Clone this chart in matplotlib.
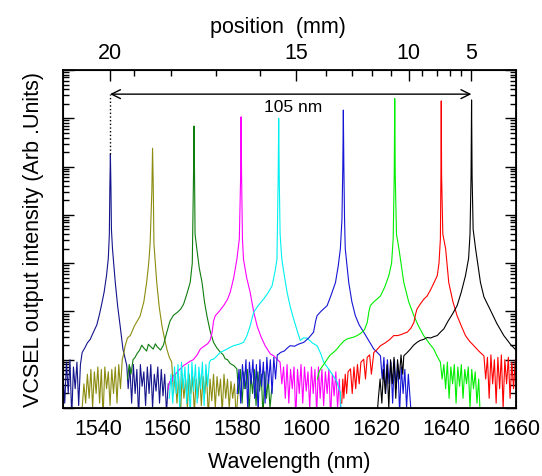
import numpy as np
import matplotlib
matplotlib.use("Agg")
import matplotlib.pyplot as plt
from matplotlib.ticker import LogLocator, NullFormatter

plt.rcParams['font.family'] = ['Liberation Sans', 'DejaVu Sans']

# ---------------- data (log10 of intensity, arb. units) ----------------
NOISE_STEP = 0.5  # nm sampling of the noise-floor segments

# 1) navy, 20 mm
navy_noise_a = (1530.0, [0.7, 0.1, 0.95, 0.3, 1.0, -0.2, 0.85, 0.4, 0.95, 0.05, 0.9, 1.15])
navy_wl = [1536.3, 1537.0, 1537.8, 1538.6, 1539.7, 1540.5, 1541.1, 1541.8, 1542.5, 1543.0,
           1543.3, 1543.45, 1543.6, 1543.75, 1543.9, 1544.2, 1545.0, 1545.7, 1546.4, 1547.2, 1548.3]
navy_lv = [1.25, 1.35, 1.42, 1.55, 1.72, 1.95, 2.15, 2.4, 2.75, 3.1,
           3.6, 4.6, 5.26, 4.6, 3.7, 3.3, 2.6, 2.1, 1.7, 1.22, 0.88]
navy_noise_b = (1548.7, [0.4, 0.85, 0.1, 0.9, 0.3, 0.8, -0.2, 0.9, 0.45, 0.75, 0.05, 0.85,
                         0.3, 0.9, 0.0, 0.7, 0.35, 0.85, 0.1, 0.8, 0.25, 0.7, -0.1, 0.5])

# 2) olive
olive_noise_a = (1535.5, [0.0, 0.5, 0.1, 0.7, 0.2, 0.8, 0.0, 0.75, 0.3, 0.85, 0.1, 0.8, -0.2,
                          0.85, 0.4, 0.75, 0.05, 0.8, 0.3, 0.85, 0.1, 0.9, 0.4, 1.0, 1.15])
olive_wl = [1547.8, 1548.5, 1549.3, 1550.5, 1552.1, 1553.2, 1554.0, 1554.6, 1555.0, 1555.5,
            1555.7, 1555.9, 1556.1, 1556.9, 1557.6, 1558.4, 1559.1, 1559.8, 1560.5, 1561.2]
olive_lv = [1.28, 1.45, 1.5, 1.7, 1.9, 2.2, 2.6, 3.0, 3.4, 4.5,
            5.38, 4.6, 3.4, 2.6, 2.1, 1.7, 1.45, 1.22, 1.05, 0.95]
olive_noise_b = (1561.7, [0.3, 0.7, 0.1, 0.65, -0.2, 0.7, 0.2, 0.6, 0.0, 0.7, 0.3, 0.65, -0.1,
                          0.6, 0.2, 0.7, 0.05, 0.65, 0.3, 0.7, -0.2, 0.6, 0.15, 0.7, 0.0, 0.65,
                          0.25, 0.6, -0.1, 0.7, 0.2, 0.6, 0.0, 0.55, 0.2, 0.5, -0.2, 0.3])

# 3) dark green
green_wl = [1548.5, 1549.0, 1549.5, 1550.1, 1550.7, 1551.2, 1552.0, 1552.6, 1553.1, 1554.0,
            1554.5, 1555.0, 1555.9, 1556.5, 1557.0, 1558.0, 1558.8, 1559.8, 1560.7, 1561.7,
            1562.8, 1563.8, 1564.6, 1565.5, 1566.5, 1567.1, 1567.45, 1567.6, 1567.75, 1567.9,
            1568.4, 1569.1, 1569.9, 1570.6, 1571.3, 1572.2, 1573.2, 1574.1, 1575.1, 1576.0,
            1576.5, 1577.2, 1578.0, 1579.0, 1579.9]
green_lv = [0.6, 0.9, 0.7, 1.0, 1.05, 1.12, 1.2, 1.3, 1.25, 1.18,
            1.32, 1.28, 1.22, 1.33, 1.27, 1.2, 1.3, 1.57, 1.8, 1.92,
            1.98, 2.05, 2.15, 2.35, 2.6, 3.0, 4.8, 5.84, 4.8, 3.6,
            3.3, 2.9, 2.6, 2.2, 1.91, 1.6, 1.36, 1.25, 1.16, 1.1,
            1.02, 1.0, 0.92, 0.88, 0.81]
green_noise = (1580.4, [0.3, 0.8, 0.1, 0.75, 0.4, 0.8, -0.1, 0.7, 0.3, 0.8, 0.05, 0.75,
                        0.35, 0.7, -0.2, 0.75, 0.2, 0.6, 0.0, 0.4])

# 4) magenta
magenta_wl = [1560.2, 1560.6, 1561.0, 1561.7, 1562.5, 1563.5, 1564.6, 1565.5, 1566.5, 1567.4,
              1568.5, 1569.4, 1570.5, 1571.5, 1572.2, 1572.8, 1573.2, 1573.7, 1574.8, 1576.1,
              1577.2, 1578.0, 1579.0, 1579.9, 1580.6, 1580.95, 1581.1, 1581.25, 1581.5, 1581.8,
              1582.7, 1583.7, 1584.7, 1585.7, 1586.8, 1588.0, 1589.5, 1590.5, 1591.4, 1592.3]
magenta_lv = [0.39, 0.55, 0.5, 0.67, 0.72, 0.8, 0.88, 0.92, 0.97, 1.0,
              1.1, 1.22, 1.28, 1.33, 1.4, 1.57, 1.8, 1.91, 2.0, 2.12,
              2.25, 2.4, 2.7, 3.08, 3.5, 4.7, 6.03, 4.8, 3.5, 3.08,
              2.7, 2.4, 2.0, 1.7, 1.48, 1.29, 1.12, 1.08, 1.01, 0.95]
magenta_noise = (1592.8, [0.5, 0.85, 0.2, 0.9, 0.1, 0.8, 0.4, 0.85, -0.2, 0.8, 0.3, 0.9, 0.1,
                          0.85, 0.35, 0.75, 0.0, 0.85, 0.3, 0.8, -0.1, 0.85, 0.2, 0.8, 0.05,
                          0.75, 0.3, 0.8, -0.2, 0.7, 0.25, 0.75, 0.0, 0.6, -0.3])

# 5) cyan
cyan_noise = (1560.5, [0.2, 0.7, 0.1, 0.85, 0.3, 0.9, 0.0, 0.95, 0.4, 0.85, 0.1, 0.9, -0.2,
                       0.95, 0.35, 0.9, 0.1, 0.85, 0.4, 0.95, 0.05, 0.9, 0.45, 0.95, 1.0])
cyan_wl = [1573.2, 1574.2, 1575.1, 1576.5, 1577.8, 1578.9, 1580.5, 1581.8, 1582.8, 1583.7,
           1584.7, 1585.8, 1586.7, 1587.6, 1588.8, 1590.0, 1590.9, 1591.4, 1591.75, 1591.9,
           1592.05, 1592.3, 1592.8, 1593.5, 1594.3, 1595.2, 1596.2, 1597.2, 1598.1, 1599.0,
           1600.0, 1601.5, 1602.9, 1604.0, 1604.8, 1605.8, 1606.8, 1607.7, 1608.6, 1609.2,
           1609.6, 1610.0]
cyan_lv = [1.01, 1.08, 1.15, 1.2, 1.25, 1.29, 1.32, 1.36, 1.5, 1.7,
           1.98, 2.1, 2.18, 2.26, 2.38, 2.53, 2.85, 3.08, 4.8, 6.0,
           4.8, 3.6, 3.08, 2.75, 2.4, 2.1, 1.84, 1.6, 1.4, 1.45,
           1.45, 1.35, 1.29, 1.12, 0.95, 0.85, 0.75, 0.65, 0.55, 0.4,
           0.33, -0.5]

# 6) blue
blue_noise_a = (1580.0, [0.3, 0.8, 0.1, 0.9, 0.4, 1.0, 0.0, 0.95, 0.5, 1.0, 0.2, 0.9, -0.1,
                         1.0, 0.45, 0.95, 0.1, 1.05, 0.5, 1.0, 0.3, 1.05, 0.6, 1.1, 1.12])
blue_wl = [1592.4, 1593.5, 1594.5, 1595.2, 1596.5, 1597.5, 1599.1, 1600.5, 1601.9, 1602.5,
           1602.9, 1604.0, 1605.8, 1607.0, 1608.2, 1609.0, 1609.6, 1610.05, 1610.3, 1610.45,
           1610.6, 1610.8, 1611.0, 1612.0, 1612.9, 1613.9, 1615.0, 1616.3, 1617.7, 1619.2,
           1620.2, 1621.1]
blue_lv = [1.15, 1.18, 1.25, 1.29, 1.28, 1.32, 1.36, 1.45, 1.57, 1.8,
           1.91, 2.0, 2.12, 2.35, 2.6, 2.95, 3.3, 3.9, 5.0, 6.17,
           5.0, 3.9, 3.3, 2.6, 2.2, 1.91, 1.72, 1.57, 1.4, 1.22,
           1.15, 1.08]
blue_noise_b = (1621.6, [0.6, 1.05, 0.3, 1.0, 0.5, 0.95, 0.1, 1.0, 0.4, 0.9, -0.1, 0.85,
                         0.3, 0.8, 0.0, 0.7, 0.2, -0.3])

# 7) lime green
lime_wl = [1603.0, 1603.5, 1603.9, 1604.8, 1605.8, 1606.7, 1607.6, 1608.6, 1609.5, 1610.5,
           1611.5, 1612.5, 1613.5, 1614.4, 1615.5, 1616.5, 1617.3, 1617.8, 1618.2, 1619.2,
           1620.2, 1621.1, 1622.3, 1623.5, 1624.3, 1624.75, 1625.05, 1625.2, 1625.35, 1625.7,
           1626.4, 1627.1, 1627.8, 1629.2, 1630.7, 1632.0, 1633.5, 1635.0, 1636.4, 1637.3,
           1638.3]
lime_lv = [0.6, 0.75, 0.81, 0.9, 1.01, 1.1, 1.15, 1.22, 1.3, 1.38,
           1.43, 1.45, 1.47, 1.5, 1.55, 1.62, 1.77, 2.0, 2.12, 2.2,
           2.26, 2.32, 2.5, 2.74, 3.0, 3.5, 4.8, 6.41, 4.8, 3.6,
           3.3, 2.95, 2.6, 2.2, 1.91, 1.7, 1.5, 1.35, 1.22, 1.08,
           0.95]
lime_noise = (1638.8, [0.6, 0.9, 0.4, 0.95, 0.2, 0.85, 0.5, 0.9, 0.1, 0.85, 0.45, 0.9, 0.2,
                       0.8, 0.5, 0.85, 0.0, 0.8, 0.4, 0.75, 0.1, 0.6, -0.3])

# 8) red
red_wl = [1610.0, 1610.3, 1610.6, 1611.0, 1611.4, 1611.8, 1612.5, 1613.0, 1613.5, 1614.0,
          1614.5, 1615.0, 1615.5, 1616.3, 1616.8, 1617.3, 1618.0, 1618.5, 1619.2, 1620.0,
          1621.1, 1622.5, 1623.8, 1624.9, 1626.0, 1627.0, 1628.0, 1628.8, 1629.8, 1630.7,
          1631.2, 1631.6, 1632.5, 1633.5, 1634.5, 1635.5, 1636.5, 1637.4, 1637.9, 1638.3,
          1638.45, 1638.55, 1638.65, 1639.0, 1639.8, 1640.7, 1641.9, 1643.1, 1644.3, 1645.5,
          1646.7, 1647.9, 1649.3, 1650.8]
red_lv = [0.1, 0.6, 0.2, 0.7, 0.3, 0.75, 0.81, 0.3, 0.85, 0.4,
          0.9, 0.5, 0.95, 1.01, 0.6, 1.05, 1.1, 0.7, 1.15, 1.2,
          1.29, 1.35, 1.42, 1.5, 1.5, 1.52, 1.55, 1.57, 1.65, 1.77,
          1.95, 2.05, 2.15, 2.25, 2.32, 2.45, 2.6, 2.74, 3.0, 3.5,
          4.8, 6.36, 4.8, 3.6, 3.3, 2.6, 2.2, 1.91, 1.7, 1.5,
          1.38, 1.29, 1.18, 1.08]
red_noise = (1651.3, [0.6, 1.05, 0.2, 1.1, 0.5, 1.0, 0.1, 1.05, 0.4, 1.1, 0.0, 1.0, 0.5,
                      1.05, 0.2, 0.95, 0.4, 1.0])

# 9) black, 5 mm
black_noise = (1620.0, [-0.3, 0.2, 0.6, 0.1, 0.8, 0.3, 0.9, 0.0, 1.0, 0.5, 1.05, 0.2, 1.0,
                        0.6, 1.1, 0.7])
black_wl = [1627.8, 1628.8, 1629.7, 1630.6, 1631.6, 1632.5, 1633.5, 1634.5, 1635.5, 1636.5,
            1637.4, 1638.3, 1639.3, 1640.5, 1641.8, 1643.1, 1644.3, 1645.5, 1646.4, 1646.8,
            1647.1, 1647.25, 1647.4, 1647.7, 1648.4, 1649.1, 1649.8, 1650.8, 1652.5, 1654.5,
            1656.5, 1658.4, 1660.0]
black_lv = [1.08, 1.15, 1.22, 1.3, 1.36, 1.4, 1.42, 1.46, 1.45, 1.48,
            1.5, 1.57, 1.64, 1.8, 1.95, 2.12, 2.4, 2.74, 3.1, 3.6,
            4.8, 6.38, 4.8, 3.7, 3.3, 2.95, 2.6, 2.3, 2.05, 1.75,
            1.5, 1.32, 1.2]

# top axis: position (mm) vs wavelength (nm)
pos_major_mm = ['20', '15', '10', '5']
pos_major_wl = [1543.5, 1596.8, 1629.2, 1647.1]
pos_minor_wl = [1550.4, 1561.0, 1573.9, 1586.6, 1605.6, 1613.0, 1618.7, 1624.0,
                1633.1, 1637.4, 1641.0, 1644.1]

x_ticks = [1540, 1560, 1580, 1600, 1620, 1640, 1660]
span_label = '105 nm'
span_from, span_to = 1543.5, 1647.2
navy_peak_lv = 5.26

# ---------------- build traces ----------------
def noise(seg):
    start, vals = seg
    return [start + NOISE_STEP * i for i in range(len(vals))], list(vals)

def trace(*parts):
    wl, lv = [], []
    for p in parts:
        if isinstance(p, tuple) and len(p) == 2 and not isinstance(p[0], list):
            w, v = noise(p)
        else:
            w, v = p
        wl += list(w)
        lv += list(v)
    return np.array(wl), 10.0 ** np.array(lv)

traces = [
    ('#14148c', trace(navy_noise_a, [navy_wl, navy_lv], navy_noise_b)),
    ('#8c8c10', trace(olive_noise_a, [olive_wl, olive_lv], olive_noise_b)),
    ('#0f7d0f', trace([green_wl, green_lv], green_noise)),
    ('#ff00ff', trace([magenta_wl, magenta_lv], magenta_noise)),
    ('#00f0f0', trace(cyan_noise, [cyan_wl, cyan_lv])),
    ('#1515d5', trace(blue_noise_a, [blue_wl, blue_lv], blue_noise_b)),
    ('#00ee00', trace([lime_wl, lime_lv], lime_noise)),
    ('#ff0000', trace([red_wl, red_lv], red_noise)),
    ('#000000', trace(black_noise, [black_wl, black_lv])),
]

# ---------------- plot ----------------
W, H = 542, 477
fig = plt.figure(figsize=(W / 100, H / 100), dpi=100)
L, R, T, B = 63, 516, 71, 409
ax = fig.add_axes([L / W, 1 - B / H, (R - L) / W, (B - T) / H])

for color, (wl, iy) in traces:
    ax.plot(wl, iy, color=color, lw=0.8)

ax.set_xlim(1530, 1660)
ax.set_yscale('log')
ax.set_ylim(1, 1e7)
ax.set_xticks(x_ticks)
ax.yaxis.set_major_locator(LogLocator(base=10, numticks=20))
ax.yaxis.set_minor_locator(LogLocator(base=10, subs=np.arange(2, 10), numticks=20))
ax.yaxis.set_major_formatter(NullFormatter())
ax.yaxis.set_minor_formatter(NullFormatter())
ax.tick_params(axis='y', which='both', direction='in', left=True, right=True,
               labelleft=False, width=1.0)
ax.tick_params(axis='y', which='major', length=8)
ax.tick_params(axis='y', which='minor', length=4)
ax.tick_params(axis='x', which='both', direction='in', length=0, labelsize=15.5, pad=7)
for s in ax.spines.values():
    s.set_linewidth(1.3)

ax.set_xlabel('Wavelength (nm)', fontsize=15.5, labelpad=9)
ax.set_ylabel('VCSEL output intensity (Arb .Units)', fontsize=15.5, labelpad=14)

ax2 = ax.twiny()
ax2.set_xlim(ax.get_xlim())
ax2.set_xticks(pos_major_wl)
ax2.set_xticklabels(pos_major_mm)
ax2.set_xticks(pos_minor_wl, minor=True)
ax2.tick_params(axis='x', which='both', direction='in', labelsize=15.5, pad=5, width=1.0)
ax2.tick_params(axis='x', which='major', length=8)
ax2.tick_params(axis='x', which='minor', length=4.5)
fig.text(278 / W, 1 - 27 / H, 'position  (mm)', fontsize=15.5, ha='center', va='center')

# span arrow
y_arrow = 10 ** 6.5
ax.annotate('', xy=(span_from, y_arrow), xytext=(span_to, y_arrow),
            arrowprops=dict(arrowstyle='<->', lw=1.0, color='black',
                            mutation_scale=16, shrinkA=0, shrinkB=0))
ax.plot([span_from, span_from], [10 ** navy_peak_lv, y_arrow], ls=':', color='black', lw=1.0)
ax.text(1596.1, 10 ** 6.24, span_label, fontsize=12.5, ha='center', va='center')

fig.savefig('out.png', dpi=100)
